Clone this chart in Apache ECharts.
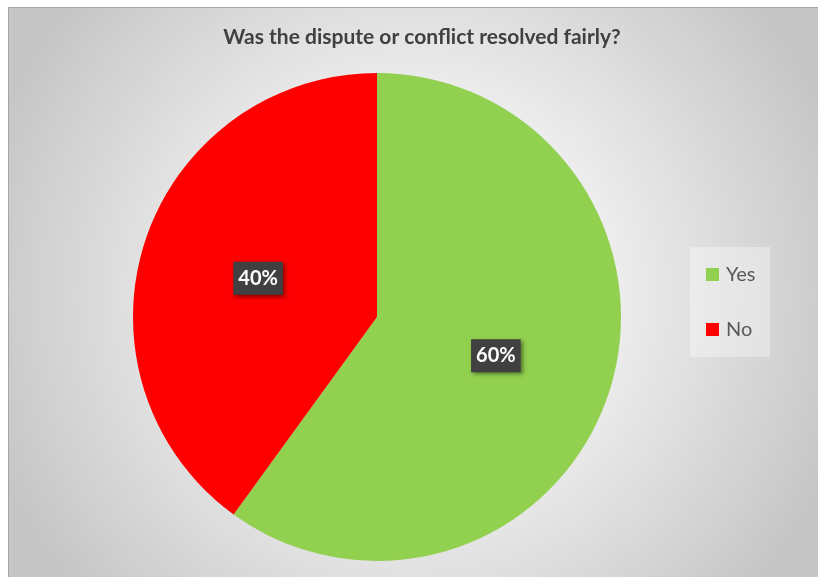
<!DOCTYPE html>
<html>
<head>
<meta charset="utf-8">
<script src="https://cdn.jsdelivr.net/npm/echarts@6/dist/echarts.min.js"></script>
<style>
html,body{margin:0;padding:0;background:#fff;}
#chart{width:818px;height:577px;}
</style>
</head>
<body>
<div id="chart"></div>
<script>
var titleText = 'Was the dispute or conflict resolved fairly?';
var categories = ['Yes', 'No'];
var values = [60, 40];
var colors = ['#92D050', '#FF0000'];

var chart = echarts.init(document.getElementById('chart'));
var data = categories.map(function (c, i) {
  return { name: c, value: values[i], itemStyle: { color: colors[i] } };
});

chart.setOption({
  animation: false,
  graphic: [
    {
      type: 'rect', z: -10, silent: true,
      shape: { x: 8.5, y: 7.5, width: 812, height: 572 },
      style: {
        fill: {
          type: 'radial', x: 0.5, y: 0.5, r: 0.78,
          colorStops: [
            { offset: 0, color: '#ffffff' },
            { offset: 0.35, color: '#f4f4f4' },
            { offset: 1, color: '#c6c6c6' }
          ]
        },
        stroke: '#a6a6a6', lineWidth: 1
      }
    },
    {
      type: 'rect', z: -5, silent: true,
      shape: { x: 690, y: 247, width: 80, height: 110 },
      style: { fill: 'rgba(255,255,255,0.35)' }
    }
  ],
  title: {
    text: titleText,
    left: 417, top: 22, textAlign: 'center',
    textStyle: { fontFamily: 'Lato', fontWeight: 'bold', fontSize: 21, color: '#404040' }
  },
  legend: {
    orient: 'vertical',
    left: 701, top: 259,
    icon: 'rect', itemWidth: 13, itemHeight: 13, itemGap: 34,
    textStyle: { fontFamily: 'Lato', fontSize: 20, color: '#595959', lineHeight: 21, padding: [0, 0, 0, 2] },
    data: categories
  },
  series: [{
    type: 'pie',
    center: [377, 317],
    radius: [0, 244],
    startAngle: 90,
    clockwise: true,
    data: data,
    label: {
      position: 'inside',
      formatter: function (p) { return p.value + '%'; },
      fontFamily: 'Lato', fontWeight: 'bold', fontSize: 20, color: '#ffffff',
      backgroundColor: '#404040',
      padding: [7, 5, 6, 5],
      shadowColor: 'rgba(0,0,0,0.45)', shadowBlur: 4, shadowOffsetX: 2, shadowOffsetY: 2
    },
    labelLine: { show: false },
    itemStyle: { borderWidth: 0 },
    emphasis: { disabled: true }
  }]
});
</script>
</body>
</html>
